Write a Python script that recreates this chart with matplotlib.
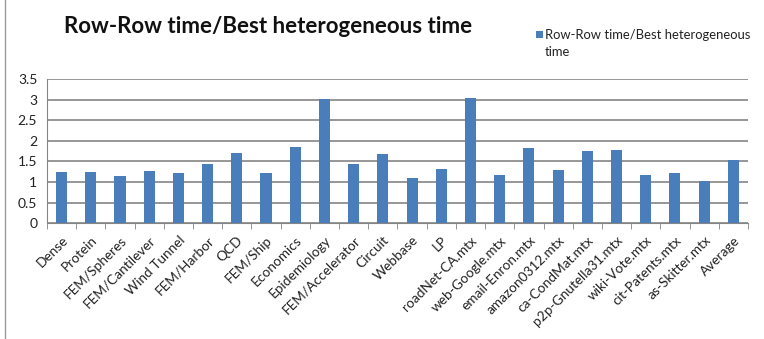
import matplotlib
matplotlib.use("Agg")
import matplotlib.pyplot as plt
from matplotlib.patches import Rectangle
from matplotlib.lines import Line2D
import numpy as np

categories = ["Dense", "Protein", "FEM/Spheres", "FEM/Cantilever", "Wind Tunnel",
              "FEM/Harbor", "QCD", "FEM/Ship", "Economics", "Epidemiology",
              "FEM/Accelerator", "Circuit", "Webbase", "LP", "roadNet-CA.mtx",
              "web-Google.mtx", "email-Enron.mtx", "amazon0312.mtx",
              "ca-CondMat.mtx", "p2p-Gnutella31.mtx", "wiki-Vote.mtx",
              "cit-Patents.mtx", "as-Skitter.mtx", "Average"]
values = [1.24, 1.24, 1.14, 1.27, 1.21, 1.43, 1.71, 1.21, 1.84, 3.02,
          1.43, 1.67, 1.10, 1.32, 3.04, 1.16, 1.82, 1.29, 1.76, 1.78,
          1.16, 1.21, 1.02, 1.54]
yticks = [0, 0.5, 1, 1.5, 2, 2.5, 3, 3.5]
ytick_labels = ["0", "0.5", "1", "1.5", "2", "2.5", "3", "3.5"]
series_name = "Row-Row time/Best heterogeneous time"

plt.rcParams['font.family'] = ['Lato', 'DejaVu Sans']
bar_color = "#4a7ebb"

fig = plt.figure(figsize=(7.64, 3.39), dpi=100)
ax = fig.add_axes([0.0615, 0.342, 0.9175, 0.424])

x = np.arange(len(categories))
ax.bar(x, values, width=0.38, color=bar_color, zorder=3)

ax.set_xlim(-0.5, len(categories) - 0.5)
ax.set_ylim(0, 3.5)
ax.set_yticks(yticks)
ax.set_yticklabels(ytick_labels, fontsize=10, color="#222222")
ax.yaxis.grid(True, color="#858585", linewidth=1.2, zorder=0)
ax.tick_params(axis='y', length=0, pad=7)

# category labels at centres, ticks at boundaries
ax.set_xticks(x)
ax.set_xticklabels(categories, rotation=45, ha='right', rotation_mode='anchor',
                   fontsize=9.8, color="#222222")
ax.tick_params(axis='x', length=0, pad=8)
ax.set_xticks(np.arange(len(categories) + 1) - 0.5, minor=True)
ax.tick_params(axis='x', which='minor', length=4, color="#858585", direction='out')

for s in ["top", "right"]:
    ax.spines[s].set_visible(False)
ax.spines["left"].set_color("#858585")
ax.spines["bottom"].set_color("#858585")

fig.text(0.084, 0.922, series_name, fontsize=16,
         fontweight='bold', color="#111111", va='center', ha='left')

# legend
fig.patches.append(Rectangle((0.7015, 0.888), 0.0095, 0.021, transform=fig.transFigure,
                             facecolor=bar_color, edgecolor='none'))
fig.text(0.7135, 0.898, "Row-Row time/Best heterogeneous", fontsize=9.4,
         color="#222222", va='center', ha='left')
fig.text(0.7135, 0.847, "time", fontsize=9.4, color="#222222", va='center', ha='left')

# chart border at left
fig.add_artist(Line2D([0.0065, 0.0065], [0.0, 1.0], transform=fig.transFigure,
                      color="#9a9a9a", linewidth=1.0))

fig.savefig("out.png", dpi=100)
